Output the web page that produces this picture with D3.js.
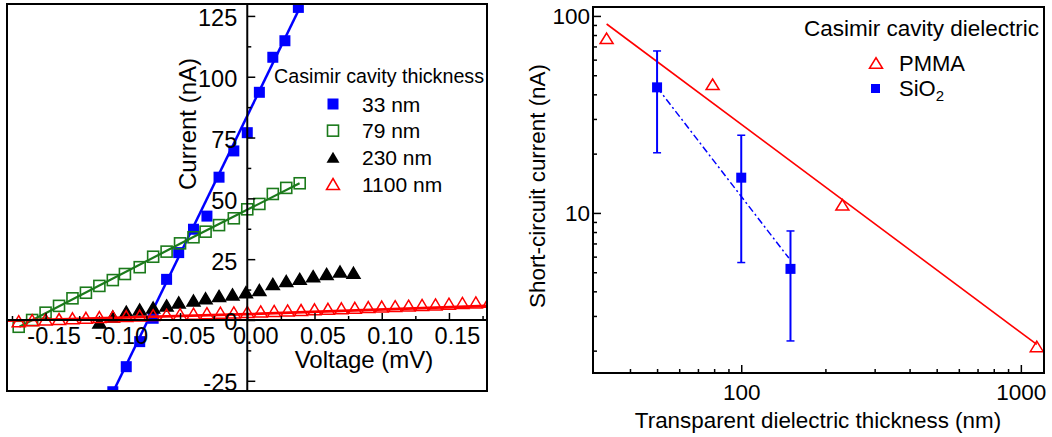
<!DOCTYPE html>
<html lang="en">
<head>
<meta charset="UTF-8">
<script src="https://cdn.jsdelivr.net/npm/d3@7"></script>
<style>
    body { margin: 0; background: #fff; }
    text { font-family: "Liberation Sans", Arial, sans-serif; fill: #000; }
    .domain { display: none; }
</style>
</head>
<body>
<div id="fig"></div>
<script>
const width = 1052, height = 437;

// ---- left panel: I-V curves (V in mV, I in nA)
const v33 = [0.038, 0.028, 0.019, 0.009, 0.000, -0.010, -0.021, -0.030, -0.040, -0.051, -0.060, -0.070, -0.080, -0.090, -0.100];
const i33 = [128.5, 114.8, 108.0, 93.6, 77.0, 69.5, 58.7, 42.7, 37.3, 27.7, 16.7, 0.7, -8.9, -19.2, -29.5];
const fitV33 = [-0.11, 0.05];
const fitI33 = [-41.2, 140.8];

const v79 = [0.039, 0.029, 0.019, 0.009, 0.000, -0.010, -0.021, -0.031, -0.040, -0.050, -0.060, -0.070, -0.080, -0.091, -0.100, -0.110, -0.120, -0.130, -0.140, -0.150, -0.160, -0.170];
const i79 = [56.2, 54.3, 51.8, 47.7, 45.5, 41.8, 39.0, 36.3, 34.0, 31.5, 28.1, 26.0, 21.7, 18.9, 16.4, 14.0, 11.2, 8.9, 5.8, 3.0, 0.0, -2.8];
const fitV79 = [-0.1695, -0.05, 0.0389];
const fitI79 = [-2.8, 31.3, 56.2];

const v230 = [-0.110, -0.100, -0.090, -0.080, -0.070, -0.060, -0.051, -0.040, -0.031, -0.021, -0.011, -0.001, 0.009, 0.019, 0.029, 0.039, 0.049, 0.059, 0.069, 0.079];
const i230 = [-1.0, 1.4, 3.4, 4.3, 5.1, 6.0, 7.2, 8.0, 8.9, 9.9, 10.5, 11.4, 12.3, 14.8, 16.0, 16.9, 18.0, 18.9, 19.9, 19.4];

const v1100 = [-0.17, -0.16, -0.15, -0.14, -0.13, -0.12, -0.11, -0.10, -0.09, -0.08, -0.07, -0.06, -0.05, -0.04, -0.03, -0.02, -0.01, 0.00,
               0.01, 0.02, 0.03, 0.04, 0.05, 0.06, 0.07, 0.08, 0.09, 0.10, 0.11, 0.12, 0.13, 0.14, 0.15, 0.16, 0.17, 0.18];
const i1100 = [-0.5, -0.1, 0.2, 0.4, 0.7, 0.9, 1.2, 1.4, 1.6, 1.8, 2.0, 2.2, 2.4, 2.6, 2.8, 3.0, 3.1, 3.3,
               3.5, 3.7, 3.9, 4.1, 4.4, 4.6, 4.8, 5.0, 5.3, 5.5, 5.7, 5.9, 6.2, 6.4, 6.7, 7.0, 7.2, 7.5];
const fitV1100 = [-0.1787, 0, 0.1783];
const fitI1100 = [-0.3, 2.4, 5.8];

const leftXTicks = [-0.15, -0.10, -0.05, 0.00, 0.05, 0.10, 0.15];
const leftXMinor = [-0.175, -0.125, -0.075, -0.025, 0.025, 0.075, 0.125, 0.175];
const leftYTicks = [-25, 0, 25, 50, 75, 100, 125];
const leftYMinor = [-12.5, 12.5, 37.5, 62.5, 87.5, 112.5];
const leftLegend = ["33 nm", "79 nm", "230 nm", "1100 nm"];

// ---- right panel: short-circuit current vs dielectric thickness
const pmmaX = [33, 79, 230, 1140];
const pmmaY = [77, 45, 11, 2.1];
const pmmaFitX = [33, 1140];
const pmmaFitY = [91, 2.15];

const sioX = [50, 100, 150];
const sioY = [43.4, 15.1, 5.2];
const sioHi = [66.4, 24.8, 8.1];
const sioLo = [20.2, 5.6, 2.24];
const sioFitX = [50, 148];
const sioFitY = [43.4, 5.9];

const rightXTicks = [100, 1000];
const rightXMinor = [40, 50, 60, 70, 80, 90, 200, 300, 400, 500, 600, 700, 800, 900];
const rightYTicks = [10, 100];
const rightYMinor = [2, 3, 4, 5, 6, 7, 8, 9, 20, 30, 40, 50, 60, 70, 80, 90];

const blue = "#0000ff", green = "#1b7a1b", red = "#ff0000";

const svg = d3.select("#fig").append("svg")
    .attr("width", width)
    .attr("height", height);

function tri(w, h) {
    return `M0,${-h / 2}L${w / 2},${h / 2}L${-w / 2},${h / 2}Z`;
}
// plain hyphen for negatives, like the original
const hy = f => d => f(d).replace("\u2212", "-");

// ================= left panel
const xL = d3.scaleLinear().domain([-0.1787, 0.1783]).range([7, 487]);
const yL = d3.scaleLinear().domain([-29.2, 129.9]).range([391, 4]);

svg.append("clipPath").attr("id", "clipL")
    .append("rect").attr("x", 7).attr("y", 4).attr("width", 480).attr("height", 387);

const gL = svg.append("g");
const plotL = gL.append("g").attr("clip-path", "url(#clipL)");

const lineL = d3.line().x(d => xL(d[0])).y(d => yL(d[1]));

function series(vs, is, fv, fi, opt) {
    if (fv) {
        plotL.append("path")
            .attr("d", lineL(d3.zip(fv, fi)))
            .attr("fill", "none")
            .attr("stroke", opt.color)
            .attr("stroke-width", opt.lw);
    }
    const sel = plotL.append("g").selectAll("path").data(d3.zip(vs, is)).enter();
    opt.fn(sel, d => xL(d[0]), d => yL(d[1]));
}

function squares(sel, fx, fy, fill, stroke) {
    sel.append("rect")
        .attr("x", d => fx(d) - 5.5).attr("y", d => fy(d) - 5.5)
        .attr("width", 11).attr("height", 11)
        .attr("fill", fill).attr("stroke", stroke).attr("stroke-width", 1.6);
}
function triangles(sel, fx, fy, fill, stroke) {
    sel.append("path")
        .attr("d", tri(13, 11))
        .attr("transform", d => `translate(${fx(d)},${fy(d)})`)
        .attr("fill", fill).attr("stroke", stroke).attr("stroke-width", 1.5);
}

series(v33, i33, fitV33, fitI33, {color: blue, lw: 2.5,
    fn: (s, fx, fy) => squares(s, fx, fy, blue, "none")});
series(v79, i79, fitV79, fitI79, {color: green, lw: 2.2,
    fn: (s, fx, fy) => squares(s, fx, fy, "none", green)});
series(v230, i230, null, null, {color: "#000",
    fn: (s, fx, fy) => triangles(s, fx, fy, "#000", "#000")});
series(v1100, i1100, fitV1100, fitI1100, {color: red, lw: 2.6,
    fn: (s, fx, fy) => triangles(s, fx, fy, "none", red)});

// axes through origin
const x0 = xL(0), y0 = yL(0);
gL.append("line").attr("x1", x0).attr("x2", x0).attr("y1", 4).attr("y2", 391)
    .attr("stroke", "#000").attr("stroke-width", 2);
gL.append("line").attr("x1", 7).attr("x2", 487).attr("y1", y0).attr("y2", y0)
    .attr("stroke", "#000").attr("stroke-width", 2);

const yAxL = gL.append("g").attr("transform", `translate(${x0},0)`)
    .call(d3.axisLeft(yL).tickValues(leftYTicks).tickSizeInner(-8).tickSizeOuter(0).tickPadding(10)
        .tickFormat(hy(d3.format("d"))));
yAxL.selectAll("text").attr("font-size", 23.5).attr("dy", "0.42em");
gL.append("g").attr("transform", `translate(${x0},0)`)
    .call(d3.axisLeft(yL).tickValues(leftYMinor).tickSizeInner(-4).tickSizeOuter(0).tickFormat(""));

const xAxL = gL.append("g").attr("transform", `translate(0,${y0})`)
    .call(d3.axisBottom(xL).tickValues(leftXTicks).tickSizeInner(-7).tickSizeOuter(0).tickPadding(7)
        .tickFormat(hy(d3.format(".2f"))));
xAxL.selectAll("text").attr("font-size", 23.5).attr("dx", 8);
gL.append("g").attr("transform", `translate(0,${y0})`)
    .call(d3.axisBottom(xL).tickValues(leftXMinor).tickSizeInner(-4).tickSizeOuter(0).tickFormat(""));
gL.selectAll(".tick line").attr("stroke-width", 1.5);

gL.append("rect").attr("x", 7).attr("y", 4).attr("width", 480).attr("height", 387)
    .attr("fill", "none").attr("stroke", "#000").attr("stroke-width", 2);

gL.append("text").attr("x", 364).attr("y", 368).attr("text-anchor", "middle")
    .attr("font-size", 24).text("Voltage (mV)");
gL.append("text").attr("transform", "translate(196,124) rotate(-90)").attr("text-anchor", "middle")
    .attr("font-size", 24).text("Current (nA)");

// legend
gL.append("text").attr("x", 274).attr("y", 83).attr("font-size", 19.7).text("Casimir cavity thickness");
const legY = d3.scalePoint().domain(leftLegend).range([104, 184]);
const legMarks = [
    g => g.append("rect").attr("x", -5.5).attr("y", -5.5).attr("width", 11).attr("height", 11).attr("fill", blue),
    g => g.append("rect").attr("x", -5.5).attr("y", -5.5).attr("width", 11).attr("height", 11).attr("fill", "none").attr("stroke", green).attr("stroke-width", 1.6),
    g => g.append("path").attr("d", tri(13, 11)).attr("fill", "#000"),
    g => g.append("path").attr("d", tri(13, 11)).attr("fill", "none").attr("stroke", red).attr("stroke-width", 1.5)
];
leftLegend.forEach((lab, i) => {
    const g = gL.append("g").attr("transform", `translate(333,${legY(lab)})`);
    legMarks[i](g);
    gL.append("text").attr("x", 362).attr("y", legY(lab) + 7.5).attr("font-size", 21).text(lab);
});

// ================= right panel
const xR = d3.scaleLog().domain([29.5, 1210]).range([593, 1044]);
const yR = d3.scaleLog().domain([1.54, 111]).range([373, 7]);
const gR = svg.append("g");

svg.append("clipPath").attr("id", "clipR")
    .append("rect").attr("x", 593).attr("y", 7).attr("width", 451).attr("height", 366);
const plotR = gR.append("g").attr("clip-path", "url(#clipR)");

const lineR = d3.line().x(d => xR(d[0])).y(d => yR(d[1]));

plotR.append("path").attr("d", lineR(d3.zip(pmmaFitX, pmmaFitY)))
    .attr("fill", "none").attr("stroke", red).attr("stroke-width", 1.6);
plotR.append("path").attr("d", lineR(d3.zip(sioFitX, sioFitY)))
    .attr("fill", "none").attr("stroke", blue).attr("stroke-width", 1.5)
    .attr("stroke-dasharray", "7,3,2,3");

// error bars
sioX.forEach((x, i) => {
    const cx = xR(x);
    plotR.append("line").attr("x1", cx).attr("x2", cx).attr("y1", yR(sioHi[i])).attr("y2", yR(sioLo[i]))
        .attr("stroke", blue).attr("stroke-width", 2);
    [sioHi[i], sioLo[i]].forEach(v => {
        plotR.append("line").attr("x1", cx - 4).attr("x2", cx + 4).attr("y1", yR(v)).attr("y2", yR(v))
            .attr("stroke", blue).attr("stroke-width", 1.5);
    });
});
plotR.selectAll("rect.sq").data(d3.zip(sioX, sioY)).enter().append("rect")
    .attr("x", d => xR(d[0]) - 5).attr("y", d => yR(d[1]) - 5)
    .attr("width", 10).attr("height", 10).attr("fill", blue);
plotR.selectAll("path.tr").data(d3.zip(pmmaX, pmmaY)).enter().append("path")
    .attr("d", tri(13, 10.5))
    .attr("transform", d => `translate(${xR(d[0])},${yR(d[1])})`)
    .attr("fill", "none").attr("stroke", red).attr("stroke-width", 1.5);

gR.append("rect").attr("x", 593).attr("y", 7).attr("width", 451).attr("height", 366)
    .attr("fill", "none").attr("stroke", "#000").attr("stroke-width", 2);

const xAxR = gR.append("g").attr("transform", "translate(0,373)")
    .call(d3.axisBottom(xR).tickValues(rightXTicks).tickSizeInner(-8).tickSizeOuter(0).tickPadding(11)
        .tickFormat(d3.format("d")));
xAxR.selectAll("text").attr("font-size", 22.5);
gR.append("g").attr("transform", "translate(0,373)")
    .call(d3.axisBottom(xR).tickValues(rightXMinor).tickSizeInner(-4).tickSizeOuter(0).tickFormat(""));

const yAxR = gR.append("g").attr("transform", "translate(593,0)")
    .call(d3.axisLeft(yR).tickValues(rightYTicks).tickSizeInner(-8).tickSizeOuter(0).tickPadding(3)
        .tickFormat(d3.format("d")));
yAxR.selectAll("text").attr("font-size", 22.5);
gR.append("g").attr("transform", "translate(593,0)")
    .call(d3.axisLeft(yR).tickValues(rightYMinor).tickSizeInner(-4).tickSizeOuter(0).tickFormat(""));
gR.selectAll(".tick line").attr("stroke-width", 1.5);

gR.append("text").attr("x", 818).attr("y", 428).attr("text-anchor", "middle")
    .attr("font-size", 22.4).text("Transparent dielectric thickness (nm)");
gR.append("text").attr("transform", "translate(545,186) rotate(-90)").attr("text-anchor", "middle")
    .attr("font-size", 22.4).text("Short-circuit current (nA)");

// legend
gR.append("text").attr("x", 804).attr("y", 36).attr("font-size", 22.5).text("Casimir cavity dielectric");
gR.append("path").attr("d", tri(13, 10.5)).attr("transform", "translate(876,63)")
    .attr("fill", "none").attr("stroke", red).attr("stroke-width", 1.5);
gR.append("text").attr("x", 899).attr("y", 70.5).attr("font-size", 22).text("PMMA");
gR.append("rect").attr("x", 871).attr("y", 84).attr("width", 9).attr("height", 9).attr("fill", blue);
const sio = gR.append("text").attr("x", 899).attr("y", 96).attr("font-size", 22).text("SiO");
sio.append("tspan").attr("font-size", 15).attr("dy", 5).text("2");
</script>
</body>
</html>
